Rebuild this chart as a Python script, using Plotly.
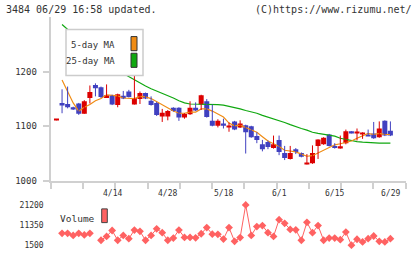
import numpy as np
import plotly.graph_objects as go

# ---------------- data ----------------
dates = ["3/31", "4/1", "4/2", "4/5", "4/6", "4/7", "4/8", "4/9", "4/12", "4/13",
         "4/14", "4/15", "4/16", "4/19", "4/20", "4/21", "4/22", "4/23", "4/26", "4/27",
         "4/28", "4/30", "5/6", "5/7", "5/10", "5/11", "5/12", "5/13", "5/14", "5/17",
         "5/18", "5/19", "5/20", "5/21", "5/24", "5/25", "5/26", "5/27", "5/28", "5/31",
         "6/1", "6/2", "6/3", "6/4", "6/7", "6/8", "6/9", "6/10", "6/11", "6/14",
         "6/15", "6/16", "6/17", "6/18", "6/21", "6/22", "6/23", "6/24", "6/25", "6/28",
         "6/29"]

opens = [1111, 1143, 1141, 1135, 1142, 1123, 1152, 1176, 1172, 1152,
         1157, 1139, 1156, 1164, 1140, 1150, 1161, 1147, 1143, 1118,
         1118, 1134, 1134, 1116, 1122, 1134, 1140, 1146, 1110, 1101,
         1105, 1099, 1109, 1098, 1102, 1100, 1082, 1067, 1071, 1060,
         1075, 1051, 1040, 1058, 1051, 1031, 1032, 1064, 1067, 1085,
         1064, 1061, 1069, 1091, 1088, 1086, 1085, 1087, 1080, 1110,
         1092]
highs = [1113, 1168, 1173, 1136, 1143, 1148, 1175, 1179, 1173, 1177,
         1158, 1160, 1165, 1167, 1195, 1164, 1162, 1155, 1145, 1132,
         1130, 1135, 1135, 1124, 1146, 1144, 1158, 1150, 1140, 1113,
         1114, 1107, 1110, 1111, 1103, 1101, 1089, 1075, 1074, 1083,
         1083, 1064, 1064, 1060, 1052, 1049, 1065, 1076, 1080, 1086,
         1069, 1083, 1094, 1091, 1096, 1089, 1094, 1108, 1109, 1111,
         1109]
lows = [1111, 1124, 1133, 1130, 1121, 1123, 1142, 1155, 1152, 1152,
        1139, 1135, 1150, 1153, 1140, 1141, 1150, 1138, 1119, 1108,
        1111, 1127, 1110, 1114, 1121, 1128, 1130, 1116, 1100, 1098,
        1096, 1090, 1093, 1097, 1050, 1079, 1069, 1054, 1058, 1059,
        1047, 1038, 1039, 1049, 1043, 1030, 1031, 1040, 1066, 1063,
        1059, 1059, 1067, 1087, 1074, 1077, 1082, 1077, 1079, 1082,
        1082]
closes = [1113, 1140, 1135, 1131, 1123, 1146, 1163, 1170, 1154, 1157,
          1140, 1159, 1151, 1154, 1152, 1161, 1151, 1139, 1121, 1125,
          1128, 1128, 1116, 1123, 1134, 1129, 1157, 1117, 1101, 1110,
          1101, 1101, 1094, 1105, 1089, 1080, 1075, 1058, 1062, 1067,
          1053, 1042, 1051, 1053, 1044, 1033, 1051, 1076, 1079, 1064,
          1060, 1063, 1091, 1087, 1090, 1088, 1082, 1078, 1096, 1083,
          1083]

ma5 = [None, 1185, 1164, 1143, 1128, 1135, 1140, 1147, 1151, 1158,
       1157, 1156, 1152, 1152, 1151, 1155, 1154, 1151, 1145, 1139,
       1133, 1128, 1124, 1124, 1126, 1126, 1132, 1132, 1128, 1123,
       1117, 1106, 1101, 1102, 1098, 1094, 1089, 1081, 1073, 1068,
       1063, 1056, 1055, 1053, 1049, 1045, 1046, 1051, 1057, 1061,
       1066, 1068, 1071, 1073, 1078, 1083, 1087, 1085, 1087, 1085,
       1085]
ma25 = [None, 1287, 1278, 1268, 1259, 1250, 1241, 1232, 1224, 1216,
        1209, 1203, 1197, 1191, 1186, 1180, 1174, 1169, 1165, 1161,
        1157, 1152, 1147, 1143, 1141, 1141, 1141, 1141, 1141, 1140,
        1139, 1137, 1135, 1132, 1129, 1127, 1124, 1120, 1117, 1114,
        1111, 1107, 1103, 1099, 1096, 1093, 1089, 1087, 1085, 1084,
        1082, 1078, 1076, 1073, 1072, 1071, 1070, 1069, 1069, 1069,
        1069]

volume = [None, 7300, 7300, 6300, 7300, 6500, 7300, None, 3900, 5800,
          8700, 3900, 6300, 4700, 8900, 8300, 3900, 6300, 9500, 7600,
          3900, 5000, 8900, 5300, 5300, 5100, 7100, 10100, 6900, 6800,
          4500, 10100, 3400, 5200, 21200, 6300, 10600, 11100, 7600, 5800,
          14000, 12200, 9200, 9000, 3900, 12700, 7600, 11100, 3900, 5000,
          5000, 4200, 7900, 1500, 4400, 3100, 4700, 6000, 3400, 3100,
          4700]

label_dates = ["4/14", "4/28", "5/18", "6/1", "6/15", "6/29"]
price_ticks = [1000, 1100, 1200]
vol_ticks = [1500, 11350, 21200]

# ---------------- styling / layout ----------------
W, H = 420, 259
RED = "#dc0000"
BLUE = "#4040c0"
ORANGE = "#f08c14"
GREEN = "#10a810"
VOLC = "#ff6262"
AXC = "#d0d0d0"
TXT = "#333333"
FONT = "DejaVu Sans Mono"


def px(x):
    return x / W


def py(y):
    return 1 - y / H


idx = list(range(len(dates)))
x_range = [-1.04, 62.75]

up = [c >= o for o, c in zip(opens, closes)]
colors = [RED if u else BLUE for u in up]
bases = [min(o, c) for o, c in zip(opens, closes)]
heights = [max(abs(c - o), 2.5) for o, c in zip(opens, closes)]


def wick_xy(want_up):
    xs, ys = [], []
    for i, u in enumerate(up):
        if u == want_up:
            xs += [i, i, None]
            ys += [lows[i], highs[i], None]
    return xs, ys


fig = go.Figure()
fig.add_trace(go.Scatter(x=idx, y=ma25, mode="lines", line=dict(color=GREEN, width=1.2),
                         hoverinfo="skip", showlegend=False))
fig.add_trace(go.Scatter(x=idx, y=ma5, mode="lines", line=dict(color=ORANGE, width=1.2),
                         hoverinfo="skip", showlegend=False))
for want_up, col in [(True, RED), (False, BLUE)]:
    wx, wy = wick_xy(want_up)
    fig.add_trace(go.Scatter(x=wx, y=wy, mode="lines", line=dict(color=col, width=1),
                             hoverinfo="skip", showlegend=False))
fig.add_trace(go.Bar(x=idx, y=heights, base=bases, width=0.9,
                     marker=dict(color=colors, line=dict(width=0)),
                     hoverinfo="skip", showlegend=False))
fig.add_trace(go.Scatter(x=idx, y=volume, mode="lines+markers", xaxis="x2", yaxis="y2",
                         line=dict(color=VOLC, width=1),
                         marker=dict(symbol="diamond", size=6, color=VOLC, line=dict(width=0)),
                         connectgaps=False, hoverinfo="skip", showlegend=False))

dom_x = [px(50.7), px(405.7)]
vtop, vbot = 203, 254
per_px = (vol_ticks[2] - vol_ticks[0]) / (250 - 209)
v_range = [vol_ticks[0] - (vbot - 250) * per_px, vol_ticks[2] + (209 - vtop) * per_px]

fig.update_layout(
    width=W, height=H, margin=dict(l=0, r=0, t=0, b=0),
    paper_bgcolor="white", plot_bgcolor="white",
    xaxis=dict(domain=dom_x, range=x_range, showline=True, linecolor=AXC, linewidth=2,
               ticks="outside", ticklen=6, tickwidth=2, tickcolor=AXC,
               tickvals=list(np.linspace(x_range[0], x_range[1], 12)),
               showticklabels=False, showgrid=False, zeroline=False,
               anchor="y", fixedrange=True),
    yaxis=dict(domain=[py(184.3), py(17.8)], range=[1000, 1300], showline=True,
               linecolor=AXC, linewidth=2, ticks="outside", ticklen=6, tickwidth=2,
               tickcolor=AXC, tickvals=price_ticks, ticklabelstandoff=4,
               tickfont=dict(family=FONT, size=9, color=TXT),
               showgrid=False, zeroline=False, anchor="x"),
    xaxis2=dict(domain=dom_x, range=x_range, visible=False, anchor="y2"),
    yaxis2=dict(domain=[py(vbot), py(vtop)], range=v_range, showline=False, ticks="",
                tickvals=vol_ticks, ticktext=[str(v) for v in vol_ticks],
                ticklabelstandoff=6,
                tickfont=dict(family=FONT, size=8, color=TXT),
                showgrid=False, zeroline=False, anchor="x2"),
)

annotations = [
    dict(text="3484 06/29 16:58 updated.", x=px(4), y=py(10), xanchor="left",
         yanchor="middle", font=dict(family=FONT, size=10, color=TXT)),
    dict(text="(C)https://www.rizumu.net/", x=px(414), y=py(10), xanchor="right",
         yanchor="middle", font=dict(family=FONT, size=10, color=TXT)),
    dict(text="5-day MA", x=px(117), y=py(45.5), xanchor="right", yanchor="middle",
         font=dict(family=FONT, size=9, color=TXT)),
    dict(text="25-day MA", x=px(117), y=py(62.3), xanchor="right", yanchor="middle",
         font=dict(family=FONT, size=9, color=TXT)),
    dict(text="Volume", x=px(58), y=py(222.5), xanchor="left", yanchor="middle",
         font=dict(family=FONT, size=9.5, color=TXT)),
]
for d in label_dates:
    annotations.append(dict(text=d, x=dates.index(d), xref="x", y=py(197), yref="paper",
                            xanchor="center", yanchor="middle", showarrow=False,
                            font=dict(family=FONT, size=8, color=TXT)))
for a in annotations:
    a.setdefault("xref", "paper")
    a.setdefault("yref", "paper")
    a.setdefault("showarrow", False)
fig.update_layout(annotations=annotations)

shapes = [
    dict(type="rect", xref="paper", yref="paper", x0=px(66), x1=px(143), y0=py(77), y1=py(30),
         fillcolor="white", line=dict(color="#cccccc", width=1.5), layer="above"),
    dict(type="rect", xref="paper", yref="paper", x0=px(131), x1=px(137), y0=py(51.7), y1=py(37.3),
         fillcolor=ORANGE, line=dict(color="#333333", width=1), layer="above"),
    dict(type="rect", xref="paper", yref="paper", x0=px(131), x1=px(137), y0=py(68.7), y1=py(54.3),
         fillcolor=GREEN, line=dict(color="#333333", width=1), layer="above"),
    dict(type="rect", xref="paper", yref="paper", x0=px(101.7), x1=px(107.3), y0=py(227), y1=py(213),
         fillcolor=VOLC, line=dict(color="#444444", width=1), layer="above"),
]
fig.update_layout(shapes=shapes)

fig.write_html("out.html")
